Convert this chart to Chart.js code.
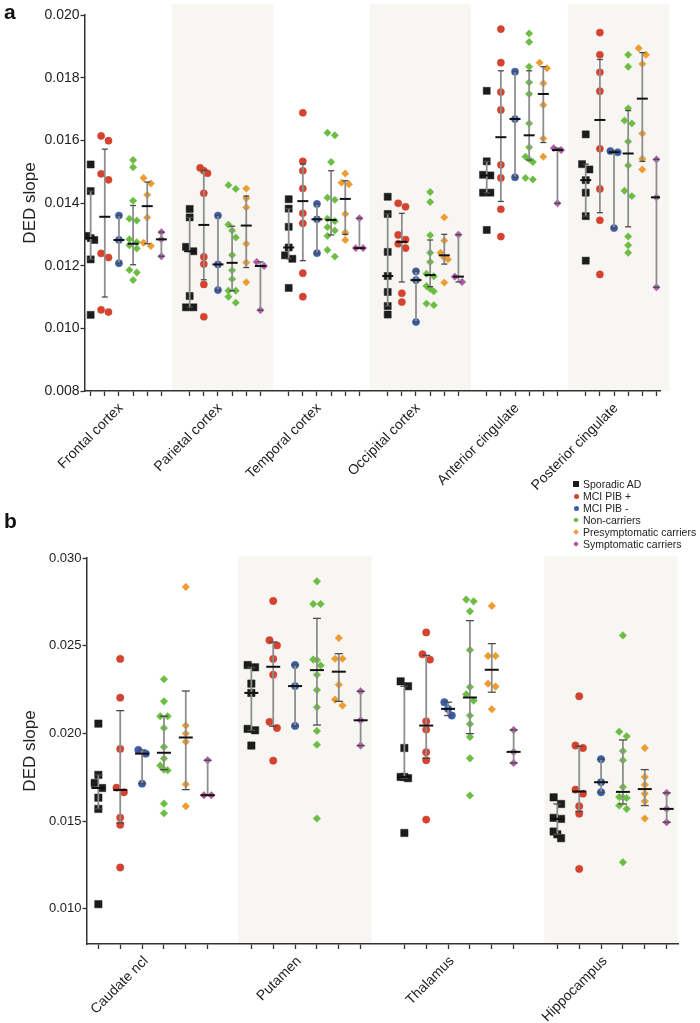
<!DOCTYPE html>
<html><head><meta charset="utf-8">
<script src="https://cdn.jsdelivr.net/npm/chart.js@4.4.1/dist/chart.umd.min.js"></script>
<style>
html,body{margin:0;padding:0;background:#fff;width:700px;height:1023px;overflow:hidden;font-family:'Liberation Sans',Arial,sans-serif;}
#ca{position:absolute;left:0;top:0;}
#cb{position:absolute;left:0;top:500px;}
.pl{position:absolute;font-weight:bold;font-size:21px;color:#111;line-height:21px;}
#legend{position:absolute;left:573px;top:478px;font-size:10.5px;line-height:12px;color:#222;}
#legend div{white-space:nowrap;height:12px;}
.mk{display:inline-block;vertical-align:middle;position:relative;top:-1px;}
</style></head><body>
<canvas id="ca" width="700" height="500"></canvas>
<canvas id="cb" width="700" height="523"></canvas>
<div class="pl" style="left:4px;top:1px">a</div>
<div class="pl" style="left:4px;top:510px">b</div>
<div id="legend"></div>
<script>
const GROUPS = ['Sporadic AD','MCI PIB +','MCI PIB -','Non-carriers','Presymptomatic carriers','Symptomatic carriers'];
const regionsA = ['Frontal cortex','Parietal cortex','Temporal cortex','Occipital cortex','Anterior cingulate','Posterior cingulate'];
const regionsB = ['Caudate ncl','Putamen','Thalamus','Hippocampus'];
const yTicksA = [0.008,0.010,0.012,0.014,0.016,0.018,0.020];
const yTicksB = [0.010,0.015,0.020,0.025,0.030];

// ---- panel a (rows = regions) ----
const sporadicA = [
 [0.01523,0.01438,0.01295,0.01288,0.01282,0.0122,0.01043],
 [0.01381,0.01354,0.0126,0.01246,0.01103,0.01067,0.01067],
 [0.01412,0.01382,0.01324,0.01258,0.01233,0.01222,0.01129],
 [0.0142,0.01365,0.01244,0.01167,0.01116,0.01071,0.01044],
 [0.01758,0.01533,0.0149,0.01488,0.01433,0.01433,0.01314],
 [0.01619,0.01524,0.01507,0.01473,0.01433,0.01358,0.01216]];
const pibPosA = [
 [0.01614,0.01599,0.01493,0.01474,0.01239,0.01226,0.01059,0.01052],
 [0.01512,0.01503,0.01495,0.01431,0.01228,0.01205,0.0114,0.01037],
 [0.01688,0.01533,0.01503,0.01446,0.01367,0.01335,0.01176,0.01101],
 [0.01399,0.01388,0.01298,0.01283,0.0127,0.01256,0.01112,0.01084],
 [0.01955,0.01848,0.01754,0.01697,0.01522,0.0148,0.0138,0.01293],
 [0.01944,0.01873,0.01817,0.01757,0.01573,0.01445,0.01345,0.01172]];
const pibNegA = [
 [0.0136,0.01282,0.01208],
 [0.0136,0.01204,0.01122],
 [0.01397,0.01348,0.0124],
 [0.01182,0.01154,0.0102],
 [0.01819,0.01668,0.01482],
 [0.01566,0.01562,0.0132]];
const nonCarA = [
 [0.01537,0.01514,0.01407,0.0135,0.01344,0.01284,0.01275,0.01265,0.01255,0.01186,0.01178,0.01154],
 [0.01457,0.01445,0.01331,0.01312,0.0129,0.01234,0.01185,0.01157,0.0112,0.0112,0.01101,0.01082],
 [0.01624,0.01616,0.01531,0.01417,0.0141,0.0135,0.01342,0.01323,0.01312,0.01295,0.0125,0.01229],
 [0.01435,0.01403,0.01297,0.01241,0.01212,0.01174,0.01166,0.01135,0.01126,0.01118,0.01079,0.01074],
 [0.01941,0.01914,0.01835,0.01785,0.01748,0.01654,0.01578,0.01548,0.0154,0.01531,0.0148,0.01475],
 [0.01873,0.01835,0.01702,0.01663,0.01654,0.01596,0.0152,0.01439,0.01422,0.01293,0.01265,0.01241]];
const presymA = [
 [0.0148,0.01462,0.01426,0.01354,0.01273,0.01263],
 [0.01446,0.01415,0.01386,0.0127,0.0121,0.01147],
 [0.01494,0.01465,0.0146,0.01365,0.01306,0.01282],
 [0.01354,0.0128,0.01241,0.01225,0.0122,0.01146],
 [0.01848,0.0183,0.01782,0.01713,0.01606,0.01548],
 [0.01894,0.01873,0.01844,0.01622,0.01541,0.01507]];
const symptA = [
 [0.01307,0.01284,0.0123],
 [0.01212,0.01199,0.01058],
 [0.01351,0.01256,0.01256],
 [0.01299,0.01165,0.01148],
 [0.01575,0.01569,0.01399],
 [0.01539,0.01418,0.01131]];
// medians and interquartile ranges (cols = groups)
const medianA = [
 [0.01288,0.01356,0.01282,0.0127,0.0139,0.01284],
 [0.01246,0.0133,0.01204,0.01209,0.01328,0.01199],
 [0.01258,0.01406,0.01348,0.01346,0.01413,0.01256],
 [0.01167,0.01276,0.01154,0.0117,0.01233,0.01165],
 [0.01488,0.0161,0.01668,0.01616,0.01748,0.01569],
 [0.01473,0.01665,0.01562,0.01558,0.01733,0.01418]];
const q1A = [
 [0.0122,0.0110,0.01208,0.01203,0.0127,0.0123],
 [0.01067,0.01155,0.01122,0.0112,0.01194,0.01058],
 [0.01222,0.01216,0.0124,0.01298,0.013,0.01256],
 [0.01071,0.01148,0.0102,0.01133,0.01205,0.01148],
 [0.01433,0.01405,0.01482,0.01537,0.01593,0.01399],
 [0.01358,0.01369,0.0132,0.01324,0.01533,0.01131]];
const q3A = [
 [0.01438,0.01572,0.0136,0.01392,0.01467,0.01307],
 [0.01354,0.01504,0.0136,0.01326,0.01422,0.01212],
 [0.01382,0.01524,0.01397,0.01503,0.01471,0.01351],
 [0.01365,0.01367,0.01182,0.01282,0.013,0.01299],
 [0.01533,0.01822,0.01819,0.01822,0.01835,0.01575],
 [0.01524,0.01858,0.01566,0.01695,0.0188,0.01539]];

// ---- panel b ----
const sporadicB = [
 [0.02056,0.01764,0.01718,0.01689,0.01634,0.0157,0.01027],
 [0.0239,0.02377,0.02284,0.02231,0.02026,0.02018,0.01931],
 [0.02297,0.02269,0.01917,0.01752,0.01752,0.01745,0.01433],
 [0.01636,0.01598,0.01519,0.01513,0.01441,0.01425,0.01403]];
const pibPosB = [
 [0.02425,0.02204,0.01912,0.01691,0.01665,0.0152,0.01479,0.01236],
 [0.02755,0.02531,0.02502,0.02425,0.02335,0.02066,0.02031,0.01845],
 [0.02576,0.02451,0.02421,0.02069,0.02022,0.01893,0.01847,0.01509],
 [0.02212,0.01931,0.01917,0.0168,0.01657,0.01585,0.01543,0.01228]];
const pibNegB = [
 [0.01906,0.01885,0.01714],
 [0.0239,0.0227,0.02043],
 [0.02178,0.0214,0.02102],
 [0.01853,0.01722,0.01665]];
const nonCarB = [
 [0.02309,0.02183,0.02098,0.02098,0.02031,0.01923,0.01857,0.01817,0.01794,0.0179,0.016,0.01545],
 [0.02867,0.02738,0.02738,0.02421,0.02419,0.02387,0.02335,0.02248,0.02149,0.02014,0.01936,0.01515],
 [0.02763,0.02753,0.02696,0.02476,0.02265,0.02223,0.02187,0.02102,0.02054,0.0198,0.01858,0.01646],
 [0.02559,0.0201,0.01984,0.019,0.01847,0.01695,0.01638,0.01635,0.01632,0.01589,0.0157,0.01266]];
const presymB = [
 [0.02835,0.02045,0.02,0.01953,0.0171,0.01585],
 [0.02544,0.02426,0.02426,0.02278,0.02193,0.02159],
 [0.02727,0.02442,0.02442,0.02284,0.02267,0.02138],
 [0.01917,0.01752,0.01708,0.01657,0.01613,0.01515]];
const symptB = [
 [0.01847,0.01648,0.01648],
 [0.0224,0.02075,0.01931],
 [0.0202,0.01895,0.01832],
 [0.01661,0.0157,0.01494]];
const medianB = [
 [0.01689,0.01678,0.01885,0.0189,0.01977,0.01648],
 [0.02231,0.0238,0.0227,0.02361,0.02352,0.02075],
 [0.01752,0.02045,0.0214,0.02205,0.02363,0.01895],
 [0.01513,0.01669,0.01722,0.01667,0.01683,0.0157]];
const q1B = [
 [0.0157,0.0149,0.01714,0.01794,0.0168,0.01648],
 [0.02018,0.02041,0.02043,0.02048,0.02183,0.01931],
 [0.01745,0.01858,0.02102,0.01999,0.02235,0.01832],
 [0.01425,0.01555,0.01665,0.01598,0.01589,0.01494]];
const q3B = [
 [0.01764,0.0213,0.01906,0.02098,0.02242,0.01847],
 [0.02377,0.02521,0.0239,0.02656,0.02455,0.0224],
 [0.02269,0.02445,0.02178,0.02643,0.02512,0.0202],
 [0.01598,0.01927,0.01853,0.01963,0.01794,0.01661]];

const COLORS = ['#1c1c1c','#d3432f','#3b5ca6','#6dbd45','#ec9c31','#b05aa6'];
const STYLES = ['rect','circle','circle','rectRot','rectRot','rectRot'];
const FONT = "'Liberation Sans', Arial, sans-serif";
Chart.defaults.font.family = FONT;
Chart.defaults.color = '#222';

// simple beeswarm offsets for overlapping points
function swarm(vals, thr, h){
  const idx = vals.map((v,i)=>i).sort((a,b)=>vals[b]-vals[a]);
  const off = new Array(vals.length).fill(0);
  let chain = [idx[0]];
  const flush = () => {
    const k = chain.length;
    if (k === 2) { off[chain[0]] = -h; off[chain[1]] = h; }
    else if (k === 3) { off[chain[0]] = -h; off[chain[1]] = 0; off[chain[2]] = h; }
    else if (k > 3) { chain.forEach((j,i)=>{ off[j] = (i%2 ? h : -h); }); }
  };
  for (let i=1;i<idx.length;i++){
    if (vals[idx[i-1]] - vals[idx[i]] < thr) chain.push(idx[i]);
    else { flush(); chain = [idx[i]]; }
  }
  flush();
  return off;
}

const bandPlugin = {
  id: 'bands',
  beforeDraw(chart, args, o){
    const {ctx, scales:{x, y}} = chart;
    ctx.save();
    ctx.fillStyle = o.color;
    o.regions.forEach(r => {
      const l = x.getPixelForValue(7*r + o.lo), rr = x.getPixelForValue(7*r + o.hi);
      const t = y.getPixelForValue(o.top), b = y.getPixelForValue(y.min);
      ctx.fillRect(l, t, rr-l, b-t);
    });
    ctx.restore();
  }
};

function buildPanel(id, regions, series, med, q1, q3, yTicks, o){
  const ds = [];
  series.forEach((ser, g) => {
    const data = [];
    ser.forEach((vals, r) => {
      const off = swarm(vals, o.thr, o.h);
      vals.forEach((v,i) => data.push({x: 7*r + g + off[i], y: v}));
    });
    ds.push({label: GROUPS[g], data, showLine:false, pointStyle: STYLES[g], pointRadius: o.radius[g],
      pointBackgroundColor: COLORS[g], pointBorderColor: COLORS[g], pointBorderWidth: 0.5, order: 2});
  });
  regions.forEach((_, r) => GROUPS.forEach((_, g) => {
    ds.push({data:[{x:7*r+g, y:q1[r][g]},{x:7*r+g, y:q3[r][g]}], showLine:true, borderColor:'#8e8e8e', borderWidth:1.8,
      pointStyle:'line', pointRadius:o.cap, pointBorderColor:'#4a4a4a', pointBackgroundColor:'#4a4a4a', pointBorderWidth:1.3, order:1});
  }));
  const md = [];
  regions.forEach((_, r) => GROUPS.forEach((_, g) => md.push({x:7*r+g, y:med[r][g]})));
  ds.push({data: md, showLine:false, pointStyle:'line', pointRadius:o.medHalf, pointBorderColor:'#111', pointBackgroundColor:'#111', pointBorderWidth:2, order:0});

  const tickVals = [];
  regions.forEach((_, r) => { for (let g=0; g<6; g++) tickVals.push(7*r+g); tickVals.push(7*r+2.5); });
  tickVals.sort((a,b)=>a-b);
  const isCenter = v => Math.abs((v % 7) - 2.5) < 1e-6;

  return new Chart(document.getElementById(id), {
    type: 'scatter',
    data: {datasets: ds},
    plugins: [bandPlugin],
    options: {
      responsive:false, animation:false, events:[],
      layout: {padding: o.padding},
      plugins: {legend:{display:false}, tooltip:{enabled:false},
        bands: {color:'#f7f6f3', regions:o.bandRegions, lo:o.bandLo, hi:o.bandHi, top:o.bandTop}},
      scales: {
        x: {type:'linear', min:o.xmin, max:o.xmax,
          afterBuildTicks: s => { s.ticks = tickVals.map(v => ({value:v})); },
          afterFit: s => { s.height = o.xHeight; },
          ticks: {autoSkip:false, minRotation:45, maxRotation:45, padding:4, labelOffset:o.labelOffset,
            font:{size:14}, color:'#222',
            callback: v => isCenter(v) ? regions[Math.floor(v/7)] : ''},
          grid: {drawOnChartArea:false, drawTicks:true, tickLength:5, tickWidth:1.3,
            tickColor: c => (c.tick && isCenter(c.tick.value)) ? 'rgba(0,0,0,0)' : '#333'},
          border: {display:true, color:'#333', width:1.5}
        },
        y: {type:'linear', min:o.ymin, max:o.ymax,
          afterBuildTicks: s => { s.ticks = yTicks.map(v => ({value:v})); },
          afterFit: s => { s.width = o.yWidth; },
          ticks: {font:{size:o.yFont}, color:'#222', padding:1, callback: v => v.toFixed(3)},
          grid: {drawOnChartArea:false, drawTicks:true, tickLength:4.5, tickWidth:1.3, tickColor:'#333'},
          border: {display:true, color:'#333', width:1.5},
          title: {display:true, text:'DED slope', font:{size:17}, color:'#222', padding:{top:20, bottom:0}}
        }
      }
    }
  });
}

buildPanel('ca', regionsA, [sporadicA, pibPosA, pibNegA, nonCarA, presymA, symptA], medianA, q1A, q3A, yTicksA, {
  xmin:-0.4, xmax:40.25, ymin:0.008, ymax:0.020, padding:{top:15, right:40, left:0, bottom:0},
  xHeight:109, yWidth:85, yFont:14, thr:0.000223, h:0.26, radius:[5,3.6,3.6,3.7,3.7,3.7], cap:3, medHalf:5.5,
  bandRegions:[1,3,5], bandLo:-1.25, bandHi:5.9, bandTop:0.02035, labelOffset:-5
});
buildPanel('cb', regionsB, [sporadicB, pibPosB, pibNegB, nonCarB, presymB, symptB], medianB, q1B, q3B, yTicksB, {
  xmin:-0.52, xmax:26.52, ymin:0.008, ymax:0.030, padding:{top:58, right:22, left:0, bottom:0},
  xHeight:79, yWidth:87, yFont:13, thr:0.0004, h:0.17, radius:[5.2,3.7,3.7,3.8,3.8,3.8], cap:4, medHalf:7,
  bandRegions:[1,3], bandLo:-0.6, bandHi:5.5, bandTop:0.0301, labelOffset:-7
});

// legend (HTML, real text)
const legendEl = document.getElementById('legend');
GROUPS.forEach((name, g) => {
  const row = document.createElement('div');
  const mk = document.createElement('span');
  mk.className = 'mk';
  if (g === 0) { mk.style.cssText += 'width:6px;height:6px;margin:0 4px 0 0;'; }
  else if (g < 3) { mk.style.cssText += 'width:5px;height:5px;border-radius:50%;margin:0 4px 0 1px;'; }
  else { mk.style.cssText += 'width:4px;height:4px;transform:rotate(45deg);margin:0 5px 0 1px;'; }
  mk.style.background = COLORS[g];
  row.appendChild(mk);
  row.appendChild(document.createTextNode(name));
  legendEl.appendChild(row);
});
</script>
</body></html>
